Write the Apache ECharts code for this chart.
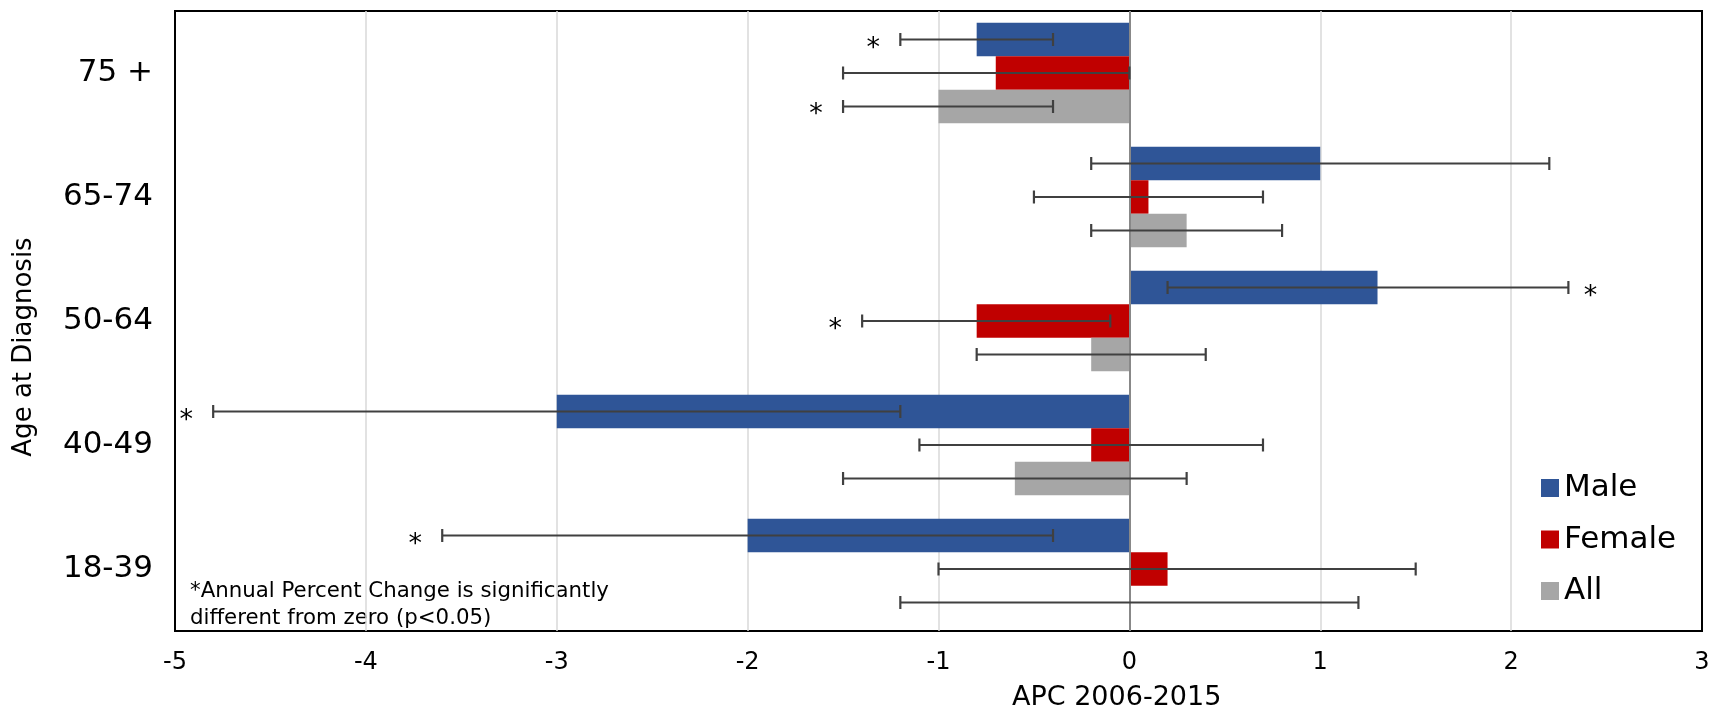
<!DOCTYPE html>
<html>
<head>
<meta charset="utf-8">
<script src="https://cdn.jsdelivr.net/npm/echarts@6/dist/echarts.min.js"></script>
<style>
html,body{margin:0;padding:0;background:#fff;}
#chart{width:1717px;height:711px;}
</style>
</head>
<body>
<div id="chart"></div>
<script>
// Categories, top to bottom
const categories = ['75 +', '65-74', '50-64', '40-49', '18-39'];
const seriesNames = ['Male', 'Female', 'All'];
// APC values
const maleAPC   = [-0.8, 1.0, 1.3, -3.0, -2.0];
const femaleAPC = [-0.7, 0.1, -0.8, -0.2, 0.2];
const allAPC    = [-1.0, 0.3, -0.2, -0.6, 0.0];
// 95% confidence limits
const maleLow   = [-1.2, -0.2, 0.2, -4.8, -3.6];
const maleHigh  = [-0.4, 2.2, 2.3, -1.2, -0.4];
const femaleLow = [-1.5, -0.5, -1.4, -1.1, -1.0];
const femaleHigh= [0.0, 0.7, -0.1, 0.7, 1.5];
const allLow    = [-1.5, -0.2, -0.8, -1.5, -1.2];
const allHigh   = [-0.4, 0.8, 0.4, 0.3, 1.2];
// significance marker: -1 = asterisk left of interval, 1 = right, 0 = none
const maleSig   = [-1, 0, 1, -1, -1];
const femaleSig = [0, 0, -1, 0, 0];
const allSig    = [-1, 0, 0, 0, 0];
const xTicks = [-5, -4, -3, -2, -1, 0, 1, 2, 3];
const xTitle = 'APC 2006-2015';
const yTitle = 'Age at Diagnosis';
const footnote = '*Annual Percent Change is significantly\ndifferent from zero (p<0.05)';

const colors = ['#2F5597', '#C00000', '#A6A6A6'];
const FONT = "'DejaVu Sans', Verdana, sans-serif";
const CAT_GAP = 0.19;

const lows = [maleLow, femaleLow, allLow];
const highs = [maleHigh, femaleHigh, allHigh];
const sigs = [maleSig, femaleSig, allSig];
const errData = [];
for (let k = 0; k < 3; k++) {
  for (let i = 0; i < categories.length; i++) {
    errData.push([lows[k][i], highs[k][i], i, k, sigs[k][i]]);
  }
}

const chart = echarts.init(document.getElementById('chart'), null, {renderer: 'canvas'});

function renderErr(params, api) {
  const lo = api.value(0), hi = api.value(1), cat = api.value(2), k = api.value(3), sig = api.value(4);
  const c = api.coord([0, cat]);
  const band = api.size([0, 1])[1];
  const bw = band * (1 - CAT_GAP) / 3;
  const y = c[1] + (k - 1) * bw;
  const x1 = api.coord([lo, cat])[0];
  const x2 = api.coord([hi, cat])[0];
  const cap = 6.5;
  const st = {stroke: '#404040', lineWidth: 2.2};
  const children = [
    {type: 'line', shape: {x1: x1, y1: y, x2: x2, y2: y}, style: st},
    {type: 'line', shape: {x1: x1, y1: y - cap, x2: x1, y2: y + cap}, style: st},
    {type: 'line', shape: {x1: x2, y1: y - cap, x2: x2, y2: y + cap}, style: st}
  ];
  if (sig !== 0) {
    children.push({
      type: 'text',
      style: {
        text: '*',
        x: sig < 0 ? x1 - 27 : x2 + 22,
        y: y + 9,
        align: 'center',
        verticalAlign: 'middle',
        font: '27px ' + FONT,
        fill: '#000'
      }
    });
  }
  return {type: 'group', children: children};
}

const barSeries = [maleAPC, femaleAPC, allAPC].map((vals, k) => ({
  name: seriesNames[k],
  type: 'bar',
  data: vals,
  barGap: '0%',
  barCategoryGap: (CAT_GAP * 100) + '%',
  itemStyle: {color: colors[k]},
  z: 2,
  markLine: k === 0 ? {
    silent: true,
    symbol: 'none',
    label: {show: false},
    lineStyle: {color: '#888888', width: 2, type: 'solid'},
    data: [{xAxis: 0}],
    z: 3
  } : undefined
}));

const option = {
  animation: false,
  textStyle: {fontFamily: FONT},
  grid: {
    left: 175, right: 15, top: 11, bottom: 80,
    show: true, borderColor: '#000', borderWidth: 2, backgroundColor: 'transparent'
  },
  legend: {
    orient: 'vertical',
    left: 1536,
    top: 466,
    itemWidth: 18,
    itemHeight: 18,
    itemGap: 17.5,
    icon: 'rect',
    data: seriesNames,
    textStyle: {fontSize: 31, color: '#000', lineHeight: 34, fontFamily: FONT}
  },
  xAxis: {
    type: 'value',
    min: xTicks[0],
    max: xTicks[xTicks.length - 1],
    interval: 1,
    axisLine: {show: false},
    axisTick: {show: false},
    splitLine: {show: true, showMinLine: false, showMaxLine: false, lineStyle: {color: '#d9d9d9', width: 1.5}},
    axisLabel: {fontSize: 24, color: '#000', margin: 20, fontFamily: FONT}
  },
  yAxis: {
    type: 'category',
    data: categories,
    inverse: true,
    axisLine: {show: false},
    axisTick: {show: false},
    splitLine: {show: false},
    axisLabel: {fontSize: 31, color: '#000', margin: 22, fontFamily: FONT}
  },
  graphic: [
    {
      type: 'text',
      left: 1012,
      top: 684,
      style: {text: xTitle, font: '27px ' + FONT, fill: '#000'}
    },
    {
      type: 'text',
      x: 24,
      y: 347,
      rotation: Math.PI / 2,
      style: {text: yTitle, font: '26px ' + FONT, fill: '#000', align: 'center', verticalAlign: 'middle'}
    },
    {
      type: 'text',
      left: 190,
      top: 578,
      style: {text: footnote, font: '21.3px ' + FONT, fill: '#000', lineHeight: 27}
    }
  ],
  series: barSeries.concat([{
    type: 'custom',
    name: 'CI',
    renderItem: renderErr,
    data: errData,
    encode: {x: [0, 1], y: 2},
    z: 5,
    silent: true
  }])
};
chart.setOption(option);
</script>
</body>
</html>
